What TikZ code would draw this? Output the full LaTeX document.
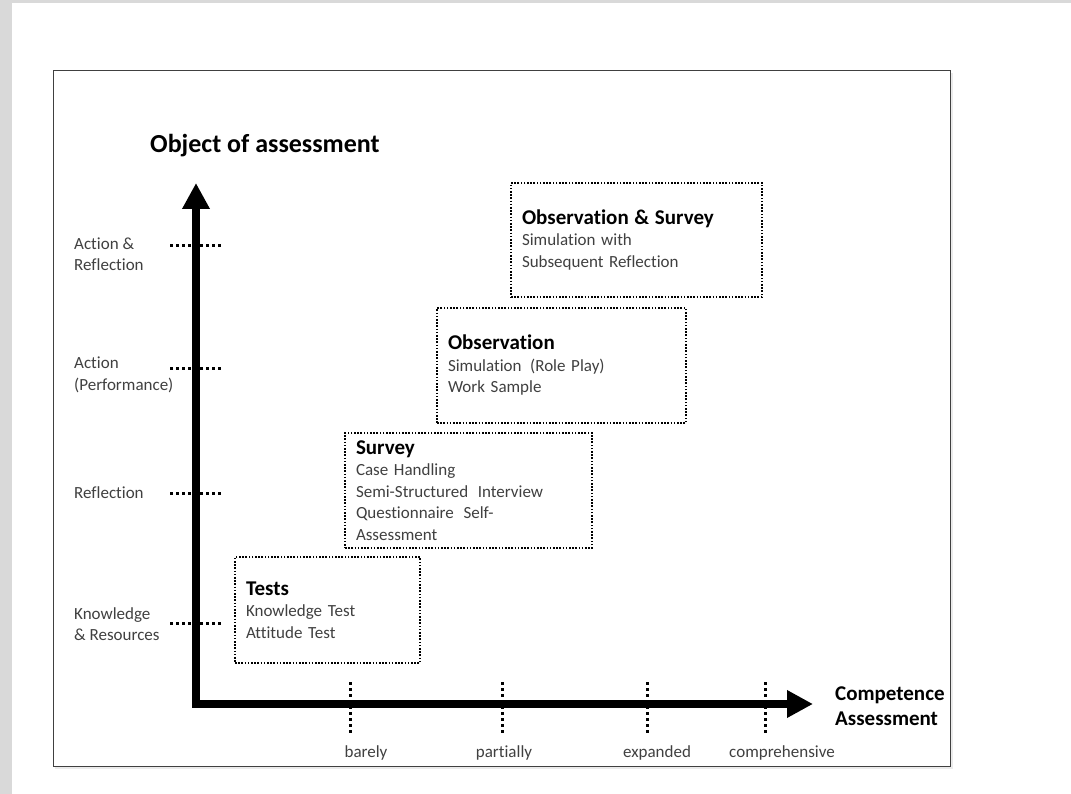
\documentclass[tikz,border=0pt]{standalone}
\usepackage{fontspec}
\setmainfont{Carlito}[Ligatures=NoCommon]
\usetikzlibrary{calc,arrows.meta}

\definecolor{bodygray}{HTML}{404040}
\newcommand{\headfont}{\fontsize{21}{22}\selectfont\bfseries\color{black}}
\newcommand{\bodyfont}{\fontsize{17}{21.5}\selectfont}

\tikzset{
  methodbox/.style={draw=black, line width=1.6pt, dash pattern=on 1.6pt off 1.6pt,
    rectangle, align=left, inner xsep=11pt, inner ysep=0pt, text=bodygray, font=\bodyfont},
  dotline/.style={line width=3pt, dash pattern=on 3pt off 3pt, black},
  levellbl/.style={anchor=west, align=left, inner sep=0pt, text=bodygray, font=\bodyfont},
  scalelbl/.style={anchor=base, inner sep=0pt, text=bodygray, font=\bodyfont}
}

\begin{document}
\begin{tikzpicture}[x=1pt, y=-1pt]

\useasboundingbox (0,0) rectangle (1071,794);
\fill[black!15] (0,0) rectangle (1071,794);
\fill[white] (12,3) rectangle (1071,794);

\fill[black!8] (55,73) rectangle (953,769);
\draw[black!75, line width=1pt, fill=white] (53,71) rectangle (950,766);

\node[anchor=base west, inner sep=0pt, font=\fontsize{26}{30}\selectfont\bfseries] (title) at (150,153) {Object of assessment};

\coordinate (origin) at (196,704);
\coordinate (ytip) at (196,183);
\coordinate (xtip) at (813,704);

\foreach \y in {246,368,493,623}
  \draw[dotline] (170,\y) -- (221,\y);

\foreach \x in {350,502,647,765}
  \draw[dotline] (\x,682) -- (\x,733);

\draw[line width=8pt, line join=miter, {Triangle[length=26pt,width=26pt]}-{Triangle[length=26pt,width=26pt]}] (ytip) -- (origin) -- (xtip);

\node[levellbl] (actrefl) at (74,254) {Action \&\\Reflection};
\node[levellbl] (action) at (74,375) {Action\\(Performance)};
\node[levellbl] (refl) at (74,493) {Reflection};
\node[levellbl] (knowledge) at (74,624) {Knowledge\\\& Resources};

\node[scalelbl] (barely) at (366,757) {barely};
\node[scalelbl] (partially) at (504,757) {partially};
\node[scalelbl] (expanded) at (657,757) {expanded};
\node[scalelbl] (comprehensive) at (782,757) {comprehensive};

\node[anchor=base west, align=left, inner sep=0pt, font=\fontsize{21}{25}\selectfont\bfseries] (competence) at ($(xtip) + (22,21)$) {Competence\\Assessment};

\node[methodbox, minimum width=185pt, minimum height=106pt, text width=163pt] (tests) at (327.5,610) {{\headfont Tests}\\Knowledge Test\\Attitude Test};

\node[methodbox, minimum width=247pt, minimum height=115pt, text width=225pt] (survey) at (468.5,490.5) {{\headfont Survey}\\Case Handling\\Semi-Structured\hspace{4pt} Interview\\Questionnaire\hspace{4pt} Self-\\Assessment};

\node[methodbox, minimum width=249pt, minimum height=115pt, text width=227pt] (observation) at (561.5,365.5) {{\headfont Observation}\\Simulation\hspace{3pt} (Role Play)\\Work Sample};

\node[methodbox, minimum width=251pt, minimum height=114pt, text width=229pt] (obssurvey) at (636.5,240) {{\headfont Observation \& Survey}\\Simulation with\\Subsequent Reflection};

\end{tikzpicture}
\end{document}
